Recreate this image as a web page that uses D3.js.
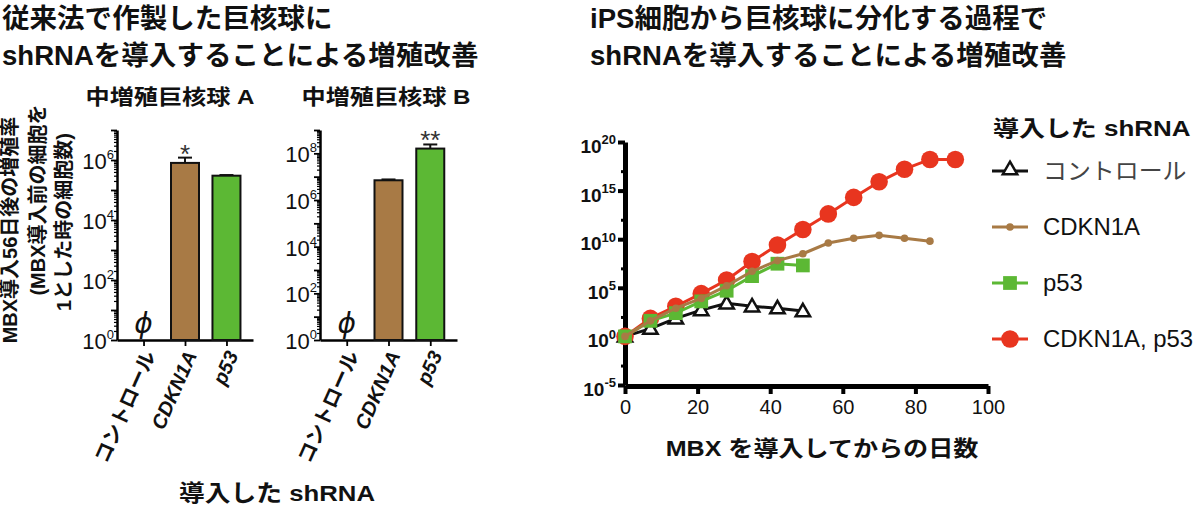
<!DOCTYPE html>
<html>
<head>
<meta charset="utf-8">
<script src="https://cdn.jsdelivr.net/npm/d3@7"></script>
<style>
body{margin:0;background:#fff}
svg{font-family:"Liberation Sans","Noto Sans CJK JP",sans-serif}
</style>
</head>
<body>
<svg id="svg" width="1200" height="505"></svg>
<script>
// bar panels (control = not detected, drawn as ϕ)
var barCats=["コントロール","CDKN1A","p53"];
var barA=[null,8e5,3e5];
var errA=[null,1.2e6,3.15e5];
var sigA=["","*",""];
var barB=[null,7e6,1.6e8];
var errB=[null,7.6e6,2.4e8];
var sigB=["","","**"];
var tickExpA=[0,2,4,6];
var tickExpB=[0,2,4,6,8];

// time course
var days=[0,7,14,21,28,35,42,49,56,63,70,77,84,91];
var ctrl=[1,6.3,71,500,2500,1260,800,400];
var cdkn=[1,40,800,8000,1.6e5,5e6,6.3e7,3.2e8,4e9,1.26e10,2.5e10,1.26e10,6.3e9];
var p53=[1,40,250,4000,5e4,1.6e6,3e7,2e7];
var both=[1,71,1260,2.5e4,6.3e5,5e7,2.5e9,1e11,4e12,2e14,8e15,1.6e17,1.6e18,1.6e18];
var lineExps=[-5,0,5,10,15,20];
var xTicks=[0,20,40,60,80,100];
var legendNames=["コントロール","CDKN1A","p53","CDKN1A, p53"];

var brown="#a87a45", green="#5cb834", red="#e8351f";
var svg=d3.select("#svg");

function txt(x,y,s,size,opt){
    opt=opt||{};
    var t=svg.append("text")
        .attr("transform","translate("+x+","+y+")"+(opt.rot?" rotate("+opt.rot+")":"")+" scale("+(opt.sx||1)+",1)")
        .attr("font-size",size)
        .attr("font-weight",opt.bold?"bold":"normal")
        .attr("text-anchor",opt.anchor||"start")
        .attr("fill",opt.fill||"#111")
        .text(s);
    if(opt.italic) t.attr("font-style","italic");
    return t;
}
function sup(sel,size,supSize){
    sel.each(function(d){
        var e=Math.round(Math.log10(d)), t=d3.select(this);
        t.text(null);
        t.append("tspan").text("10");
        t.append("tspan").attr("dy",-0.45*size).attr("font-size",supSize).text(e);
    });
}

// titles
txt(2,28,"従来法で作製した巨核球に",27,{bold:true,sx:1.02});
txt(2,65,"shRNAを導入することによる増殖改善",27,{bold:true,sx:1.02});
txt(590,28,"iPS細胞から巨核球に分化する過程で",27,{bold:true,sx:1.02});
txt(590,65,"shRNAを導入することによる増殖改善",27,{bold:true,sx:1.02});

// left y label
txt(17,230,"MBX導入56日後の増殖率",20,{bold:true,rot:-90,anchor:"middle"});
txt(45,200,"(MBX導入前の細胞を",20,{bold:true,rot:-90,anchor:"middle"});
txt(71,222,"1とした時の細胞数)",20,{bold:true,rot:-90,anchor:"middle"});
txt(277,501,"導入した shRNA",23,{bold:true,anchor:"middle",sx:1.12});

function panel(cfg){
    var x=d3.scalePoint().domain(barCats).range(cfg.xr).padding(0.64);
    var y=d3.scaleLog().domain(cfg.yd).range([340,130]);
    var g=svg.append("g");
    txt(cfg.tx,104,cfg.title,21,{bold:true,anchor:"middle",sx:1.15});

    var minors=[];
    for(var k=0;k<Math.log10(cfg.yd[1]);k++) for(var m=2;m<=9;m++) minors.push(m*Math.pow(10,k));
    g.append("g").attr("transform","translate("+cfg.xr[0]+",0)")
        .call(d3.axisLeft(y).tickValues(minors).tickSize(3).tickFormat(""))
        .call(a=>a.select(".domain").remove())
        .selectAll("line").attr("stroke-width",1.2);

    var majors=d3.range(0,Math.log10(cfg.yd[1])+1).map(e=>Math.pow(10,e));
    g.append("g").attr("transform","translate("+cfg.xr[0]+",0)")
        .call(d3.axisLeft(y).tickValues(majors).tickSize(6).tickSizeOuter(0).tickFormat(""))
        .call(a=>a.select(".domain").attr("stroke-width",2.5))
        .selectAll("line").attr("stroke-width",1.8);

    g.append("g").attr("transform","translate("+cfg.xr[0]+",0)")
        .call(d3.axisLeft(y).tickValues(cfg.exps.map(e=>Math.pow(10,e))).tickSize(0).tickPadding(3))
        .call(a=>a.select(".domain").remove())
        .selectAll("text").attr("font-size",22).attr("fill","#111")
        .attr("font-family","Liberation Sans").attr("dy","0.38em")
        .call(sup,22,13);

    g.append("g").attr("transform","translate(0,340)")
        .call(d3.axisBottom(x).tickSize(6).tickSizeOuter(0).tickFormat(""))
        .call(a=>a.select(".domain").attr("stroke-width",2.5))
        .selectAll("line").attr("stroke-width",1.8);

    barCats.forEach(function(c,i){
        var cx=x(c);
        txt(cx+6,352,c,20,{bold:true,rot:-66,anchor:"end",italic:i>0}).attr("dy","0.35em");
        if(cfg.vals[i]==null){
            txt(cx,333,"ϕ",28,{italic:true,anchor:"middle"}).attr("font-family","DejaVu Sans");
            return;
        }
        g.append("line").attr("x1",cx).attr("x2",cx)
            .attr("y1",y(cfg.vals[i])).attr("y2",y(cfg.errs[i]))
            .attr("stroke","#111").attr("stroke-width",2);
        g.append("line").attr("x1",cx-7).attr("x2",cx+7)
            .attr("y1",y(cfg.errs[i])).attr("y2",y(cfg.errs[i]))
            .attr("stroke","#111").attr("stroke-width",2);
        g.append("rect").attr("x",cx-14).attr("width",28)
            .attr("y",y(cfg.vals[i])).attr("height",340-y(cfg.vals[i]))
            .attr("fill",cfg.colors[i]).attr("stroke","#111").attr("stroke-width",2);
        if(cfg.sig[i]) txt(cx,y(cfg.errs[i])+5,cfg.sig[i],26,{anchor:"middle",fill:"#333"});
    });
}
panel({xr:[117,253],yd:[1,1e7],exps:tickExpA,vals:barA,errs:errA,sig:sigA,colors:[null,brown,green],title:"中増殖巨核球 A",tx:170});
panel({xr:[320,457],yd:[1,1e9],exps:tickExpB,vals:barB,errs:errB,sig:sigB,colors:[null,brown,green],title:"中増殖巨核球 B",tx:386});

// right chart
var x=d3.scaleLinear().domain([0,100]).range([625,988]);
var y=d3.scaleLog().domain([1e-5,1e20]).range([385,142]);
var rg=svg.append("g");

rg.append("g").attr("transform","translate(625,0)")
    .call(d3.axisLeft(y).tickValues([1e17,1e12,1e7,1e2,1e-3]).tickSize(4).tickFormat(""))
    .call(a=>a.select(".domain").remove())
    .selectAll("line").attr("stroke-width",3);
rg.append("g").attr("transform","translate(625,0)")
    .call(d3.axisLeft(y).tickValues(lineExps.map(e=>Math.pow(10,e))).tickSize(7).tickSizeOuter(0).tickPadding(2))
    .call(a=>a.select(".domain").attr("stroke-width",5))
    .call(a=>a.selectAll("line").attr("stroke-width",4))
    .selectAll("text").attr("font-size",19).attr("font-weight","bold").attr("fill","#111")
    .attr("font-family","Liberation Sans").attr("dy","0.55em")
    .call(sup,19,13);
rg.append("g").attr("transform","translate(0,386)")
    .call(d3.axisBottom(x).tickValues(xTicks).tickSize(8).tickSizeOuter(0).tickPadding(6))
    .call(a=>a.select(".domain").attr("stroke-width",5))
    .call(a=>a.selectAll("line").attr("stroke-width",4))
    .selectAll("text").attr("font-size",20).attr("fill","#111").attr("font-family","Liberation Sans");
txt(822,456,"MBX を導入してからの日数",22,{bold:true,anchor:"middle",sx:1.14});

var line=d3.line().x((d,i)=>x(days[i])).y(d=>y(d));
var tri=d3.symbol(d3.symbolTriangle,90), sq=d3.symbol(d3.symbolSquare,190);

rg.append("path").attr("d",line(ctrl)).attr("fill","none").attr("stroke","#111").attr("stroke-width",3);
rg.selectAll(".tri").data(ctrl).enter().append("path").attr("class","tri")
    .attr("d",tri).attr("transform",(d,i)=>"translate("+x(days[i])+","+(y(d)+1)+")")
    .attr("fill","#fff").attr("stroke","#111").attr("stroke-width",2.5);

rg.append("path").attr("d",line(both)).attr("fill","none").attr("stroke",red).attr("stroke-width",3);
rg.selectAll(".dotr").data(both).enter().append("circle").attr("class","dotr")
    .attr("cx",(d,i)=>x(days[i])).attr("cy",d=>y(d)).attr("r",8.8).attr("fill",red);

rg.append("path").attr("d",line(p53)).attr("fill","none").attr("stroke",green).attr("stroke-width",3);
rg.selectAll(".sq").data(p53).enter().append("path").attr("class","sq")
    .attr("d",sq).attr("transform",(d,i)=>"translate("+x(days[i])+","+y(d)+")").attr("fill",green);

rg.append("path").attr("d",line(cdkn)).attr("fill","none").attr("stroke",brown).attr("stroke-width",3);
rg.selectAll(".dotb").data(cdkn).enter().append("circle").attr("class","dotb")
    .attr("cx",(d,i)=>x(days[i])).attr("cy",d=>y(d)).attr("r",3.8).attr("fill",brown);

// legend
txt(993,136,"導入した shRNA",22,{bold:true,sx:1.18});
var ly=d3.scalePoint().domain(legendNames).range([171,339]);
legendNames.forEach(function(n,i){
    var yy=ly(n), c=[ "#111",brown,green,red][i];
    svg.append("line").attr("x1",992).attr("x2",1028).attr("y1",yy).attr("y2",yy)
        .attr("stroke",c).attr("stroke-width",3);
    if(i==0) svg.append("path").attr("d",tri).attr("transform","translate(1010,"+(yy-1)+")")
        .attr("fill","#fff").attr("stroke","#111").attr("stroke-width",2.5);
    if(i==1) svg.append("circle").attr("cx",1010).attr("cy",yy).attr("r",3.8).attr("fill",brown);
    if(i==2) svg.append("path").attr("d",sq).attr("transform","translate(1010,"+yy+")").attr("fill",green);
    if(i==3) svg.append("circle").attr("cx",1010).attr("cy",yy).attr("r",8.8).attr("fill",red);
    txt(1043,yy+8,n,23,{fill:i==0?"#444":"#111",sx:1.04});
});
</script>
</body>
</html>
